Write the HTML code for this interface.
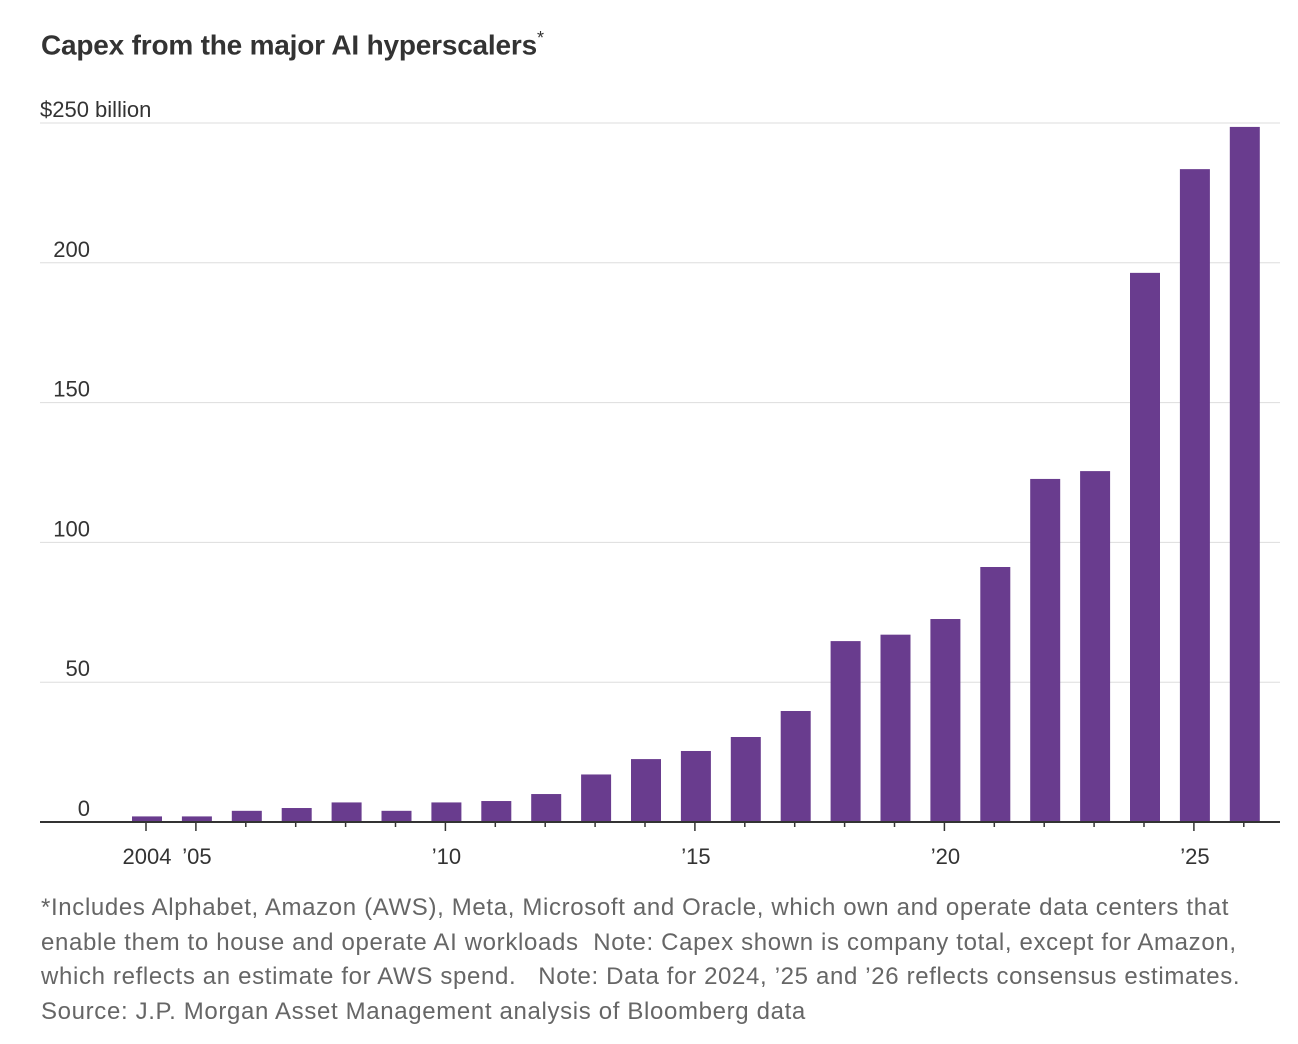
<!DOCTYPE html>
<html><head><meta charset="utf-8"><style>
body{margin:0;background:#fff;width:1298px;height:1044px;overflow:hidden;font-family:"Liberation Sans Narrow","Liberation Sans",sans-serif;}
#title{position:absolute;left:41px;top:28px;font-size:28px;font-weight:bold;color:#333;font-family:"Liberation Sans",sans-serif;letter-spacing:-0.2px;white-space:nowrap}
#title sup{font-weight:normal;font-size:18px}
#note{position:absolute;left:41px;top:891px;font-size:24px;line-height:34.5px;color:#666;font-family:"Liberation Sans",sans-serif;white-space:nowrap}
#note div{letter-spacing:0.65px}
svg{position:absolute;left:0;top:0}
</style></head><body>
<div id="title">Capex from the major AI hyperscalers<sup>*</sup></div>
<svg id="chart" width="1298" height="880"></svg>
<div id="note">
<div>*Includes Alphabet, Amazon (AWS), Meta, Microsoft and Oracle, which own and operate data centers that</div>
<div>enable them to house and operate AI workloads&nbsp; Note: Capex shown is company total, except for Amazon,</div>
<div>which reflects an estimate for AWS spend.&nbsp;&nbsp; Note: Data for 2024, ’25 and ’26 reflects consensus estimates.</div>
<div>Source: J.P. Morgan Asset Management analysis of Bloomberg data</div>
</div>
<script>
const years=[2004,2005,2006,2007,2008,2009,2010,2011,2012,2013,2014,2015,2016,2017,2018,2019,2020,2021,2022,2023,2024,2025,2026];
const capex=[2,2,4,5,7,4,7,7.5,10,17,22.5,25.4,30.4,39.7,64.7,67,72.6,91.2,122.7,125.5,196.4,233.5,248.6];
const yTicks=[0,50,100,150,200,250];
const yTickLabels=["0","50","100","150","200","$250 billion"];
const xLabelYears=[2004,2005,2010,2015,2020,2025];
const xLabels=["2004","’05","’10","’15","’20","’25"];
const NS="http://www.w3.org/2000/svg";
const svg=document.getElementById('chart');
const y=v=>822-v*(699/250);
const x=yr=>147+(yr-2004)*49.9;
function mk(t,a){const e=document.createElementNS(NS,t);for(const k in a)e.setAttribute(k,a[k]);svg.appendChild(e);return e;}
yTicks.forEach((t,i)=>{
 if(t>0){const g=mk('line',{x1:40,x2:1280,y1:y(t),y2:y(t),stroke:'#ddd','stroke-width':1});
 
 }
 const tx=mk('text',{x:i==5?40:90,y:y(t)-6,'font-size':22,fill:'#333','text-anchor':i==5?'start':'end'});
 tx.textContent=yTickLabels[i];
 
 
});
years.forEach((yr,i)=>{
 const b=mk('rect',{x:x(yr)-15,y:y(capex[i]),width:30,height:822-y(capex[i]),fill:'#693c8e'});
 
 
 const lab=xLabelYears.includes(yr);
 const tk=mk('line',{x1:x(yr)-1,x2:x(yr)-1,y1:822,y2:lab?831:827,stroke:'#333','stroke-width':1.5});
 
 
});
const ax=mk('line',{x1:40,x2:1280,y1:822,y2:822,stroke:'#333','stroke-width':2});


xLabelYears.forEach((yr,i)=>{
 const t=mk('text',{x:x(yr),y:864,'font-size':22,fill:'#333','text-anchor':'middle'});
 t.textContent=xLabels[i];
 
 
});
</script>
</body></html>
